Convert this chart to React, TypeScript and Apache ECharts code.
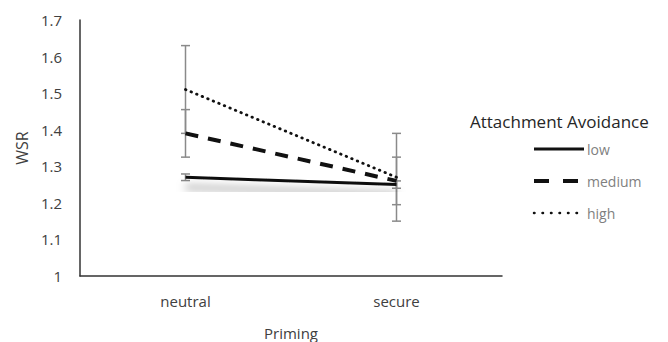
import React, { useEffect, useRef } from "react";
import * as echarts from "echarts";

const categories = ["neutral", "secure"];
const lowValues = [1.27, 1.25];
const lowErr = [0.009, 0.01];
const mediumValues = [1.39, 1.26];
const mediumErr = [0.065, 0.065];
const highValues = [1.51, 1.27];
const highErr = [0.12, 0.12];

const FONT = "'Open Sans', 'Liberation Sans', sans-serif";

export default function App() {
  const ref = useRef<HTMLDivElement>(null);
  useEffect(() => {
    document.body.style.margin = "0";
    const chart = echarts.init(ref.current!, null, { renderer: "svg" });
    const errData: any[] = [];
    [
      [lowValues, lowErr],
      [mediumValues, mediumErr],
      [highValues, highErr],
    ].forEach(([vals, errs]) => {
      vals.forEach((v, i) => errData.push([i, v - errs[i], v + errs[i]]));
    });
    chart.setOption({
      animation: false,
      textStyle: { fontFamily: FONT },
      title: {
        text: "Attachment Avoidance",
        left: 470,
        top: 113,
        padding: 0,
        textStyle: { fontFamily: FONT, fontSize: 17, fontWeight: "normal", color: "#262626" },
      },
      legend: {
        orient: "vertical",
        left: 532,
        top: 142,
        padding: 0,
        itemWidth: 50,
        itemHeight: 14,
        itemGap: 18,
        itemStyle: { opacity: 0 },
        textStyle: { fontFamily: FONT, fontSize: 14, color: "#7f7f7f", padding: [0, 0, 0, -2] },
        data: [
          { name: "low", lineStyle: { width: 3, color: "#111" } },
          { name: "medium", lineStyle: { width: 4, color: "#111", type: [15, 14] } },
          { name: "high", lineStyle: { width: 2.5, color: "#111", type: [0.5, 8], cap: "round" } },
        ],
      },
      grid: { left: 80, right: 166, top: 20, bottom: 66, outerBoundsMode: "none", containLabel: false },
      xAxis: {
        type: "category",
        data: categories,
        boundaryGap: true,
        name: "Priming",
        nameLocation: "middle",
        nameGap: 49,
        nameTextStyle: { fontFamily: FONT, fontSize: 15, color: "#404040" },
        axisLine: { lineStyle: { color: "#333", width: 1.5 } },
        axisTick: { show: false },
        axisLabel: { fontFamily: FONT, fontSize: 15, color: "#404040", margin: 17 },
      },
      yAxis: {
        type: "value",
        min: 1,
        max: 1.7,
        interval: 0.1,
        name: "WSR",
        nameLocation: "middle",
        nameGap: 50,
        nameTextStyle: { fontFamily: FONT, fontSize: 16, color: "#404040" },
        axisLine: { show: true, lineStyle: { color: "#333", width: 1.5 } },
        axisTick: { show: false },
        splitLine: { show: false },
        axisLabel: { fontFamily: FONT, fontSize: 15, color: "#404040", margin: 18 },
      },
      series: [
        {
          type: "custom",
          name: "err",
          data: errData,
          z: 1,
          renderItem: (params: any, api: any) => {
            const x = api.value(0);
            const lo = api.coord([x, api.value(1)]);
            const hi = api.coord([x, api.value(2)]);
            const w = 4.5;
            const style = { stroke: "#8a8a8a", lineWidth: 1.5 };
            return {
              type: "group",
              children: [
                { type: "line", shape: { x1: lo[0], y1: lo[1], x2: hi[0], y2: hi[1] }, style },
                { type: "line", shape: { x1: lo[0] - w, y1: lo[1], x2: lo[0] + w, y2: lo[1] }, style },
                { type: "line", shape: { x1: hi[0] - w, y1: hi[1], x2: hi[0] + w, y2: hi[1] }, style },
              ],
            };
          },
        },
        {
          type: "line",
          name: "low",
          data: lowValues,
          symbol: "none",
          z: 3,
          lineStyle: {
            color: "#111",
            width: 3,
            type: "solid",
            shadowColor: "rgba(0,0,0,0.5)",
            shadowBlur: 8,
            shadowOffsetY: 10,
          },
          itemStyle: { color: "#111" },
        },
        {
          type: "line",
          name: "medium",
          data: mediumValues,
          symbol: "none",
          z: 3,
          lineStyle: { color: "#111", width: 4, type: [13, 10] },
          itemStyle: { color: "#111" },
        },
        {
          type: "line",
          name: "high",
          data: highValues,
          symbol: "none",
          z: 3,
          lineStyle: { color: "#111", width: 2.8, type: [0.5, 5.5], cap: "round" },
          itemStyle: { color: "#111" },
        },
      ],
    });
    return () => chart.dispose();
  }, []);
  return <div ref={ref} style={{ width: 668, height: 342 }} />;
}
